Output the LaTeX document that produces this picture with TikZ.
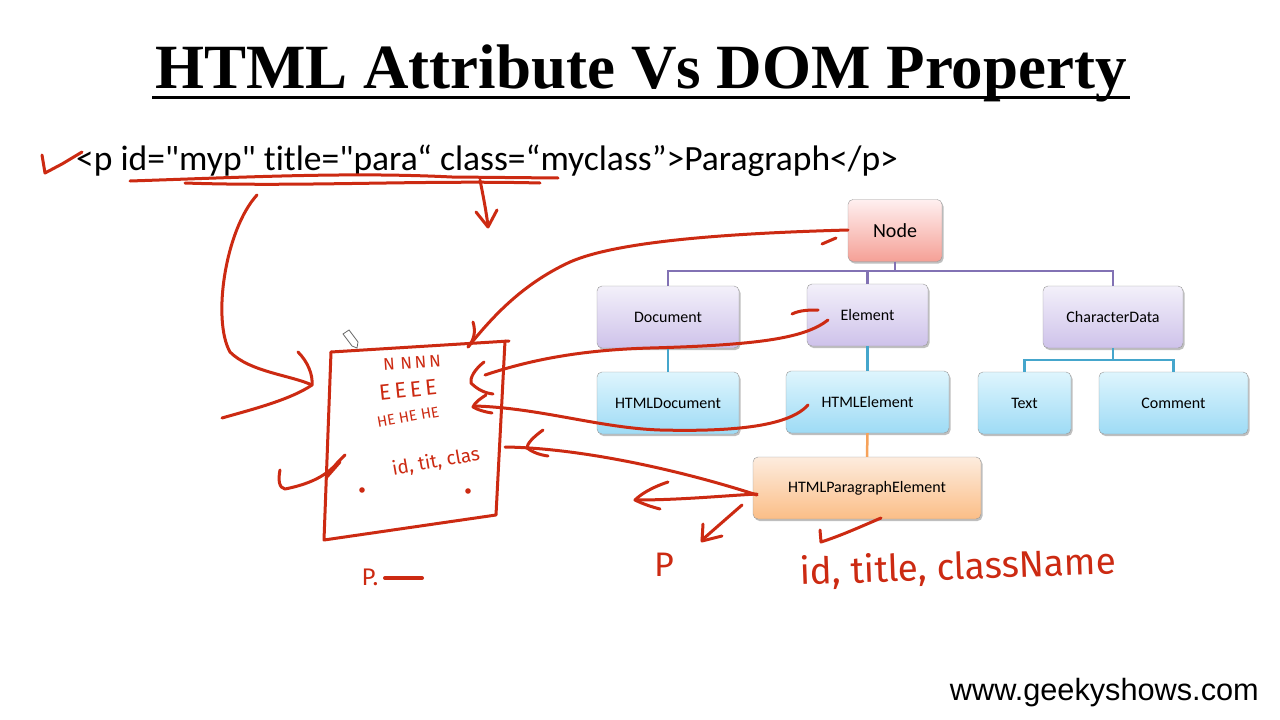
\documentclass[tikz,border=0pt]{standalone}
\usepackage{fontspec}
\setmainfont{Liberation Serif}
\newfontfamily\calib[Ligatures=NoCommon]{Carlito}
\newfontfamily\arialf{Liberation Sans}
\newfontfamily\handf{Fira Sans}
\usetikzlibrary{shadows}
\definecolor{pen}{HTML}{CC2A12}
\definecolor{purpline}{HTML}{8272B4}
\definecolor{blueline}{HTML}{45A6CC}
\definecolor{orline}{HTML}{F6A25A}
\begin{document}
\begin{tikzpicture}[x=1pt,y=-1pt,
  box/.style={draw=black!40, rounded corners=5pt, minimum height=62pt, inner sep=0pt,
    font=\calib\fontsize{16}{18}\selectfont,
    drop shadow={shadow xshift=1.5pt, shadow yshift=-2pt, opacity=0.25, fill=black}},
  pinkbox/.style={box, top color=red!6, bottom color={rgb,255:red,245;green,160;blue,150}},
  lavbox/.style={box, top color={rgb,255:red,243;green,240;blue,250}, bottom color={rgb,255:red,206;green,194;blue,234}},
  bluebox/.style={box, top color={rgb,255:red,222;green,245;blue,253}, bottom color={rgb,255:red,158;green,219;blue,245}},
  orbox/.style={box, top color={rgb,255:red,253;green,236;blue,222}, bottom color={rgb,255:red,251;green,190;blue,135}},
  pen/.style={draw=pen, line width=3pt, line cap=round, line join=round},
  hand/.style={text=pen, inner sep=0pt}]
\useasboundingbox (0,0) rectangle (1280,720);
\fill[white] (0,0) rectangle (1280,720);

% title
\node[font=\bfseries\fontsize{63}{70}\selectfont, inner sep=0pt, anchor=base] (title) at (641,88) {HTML Attribute Vs DOM Property};
\draw[line width=3pt] (152,97) -- (1130,97);

% code line
\node[font=\calib\fontsize{35.5}{38}\selectfont, anchor=base west, inner sep=0pt] (code) at (76,170) {<p id="myp" title="para“ class=“myclass”>Paragraph</p>};

% url
\node[font=\arialf\fontsize{30.7}{34}\selectfont, anchor=base east, inner sep=0pt] (url) at (1259,700) {www.geekyshows.com};

% tree nodes
\node[pinkbox, minimum width=94pt, font=\calib\fontsize{20}{24}\selectfont] (nodeN) at (895,230.5) {Node};
\node[lavbox, minimum width=142pt] (doc) at (668,317) {Document};
\node[lavbox, minimum width=121pt] (elem) at (867.5,315) {Element};
\node[lavbox, minimum width=140pt] (chd) at (1113,317) {CharacterData};
\node[bluebox, minimum width=142pt] (hdoc) at (668,403) {HTMLDocument};
\node[bluebox, minimum width=163pt] (hel) at (867.5,402) {HTMLElement};
\node[bluebox, minimum width=93pt] (txt) at (1024.5,403) {Text};
\node[bluebox, minimum width=149pt] (cmt) at (1173.5,403) {Comment};
\node[orbox, minimum width=228pt] (para) at (867,488) {HTMLParagraphElement};

% tree connectors
\coordinate (j1) at (895,271);
\coordinate (j2) at (1113,360);
\draw[purpline, line width=2.5pt] (nodeN.south) -- (j1);
\draw[purpline, line width=2.5pt] (doc.north) |- (j1) -| (chd.north);
\draw[purpline, line width=2.5pt] (elem.north) -- (elem.north |- j1);
\draw[blueline, line width=2.5pt] (doc.south) -- (hdoc.north);
\draw[blueline, line width=2.5pt] (elem.south) -- (hel.north);
\draw[blueline, line width=2.5pt] (chd.south) -- (j2);
\draw[blueline, line width=2.5pt] (txt.north) |- (j2) -| (cmt.north);
\draw[orline, line width=2.5pt] (hel.south) -- (para.north);

% ---- hand-drawn annotations ----
% check mark at code line
\draw[pen] (42,155) -- (45,173) -- (62,164) -- (82,152);
% underlines
\draw[pen] (130,181) .. controls (250,177) and (350,172) .. (452,177) -- (558,178);
\draw[pen] (185,183) .. controls (300,187) and (420,180) .. (540,183);
% arrow down
\draw[pen] (480,180) .. controls (483,195) and (486,210) .. (488,226);
\draw[pen] (476,212) -- (488,227) -- (497,210);

% left big arrow into box
\draw[pen] (257,195) .. controls (225,230) and (212,320) .. (230,352) .. controls (250,372) and (290,375) .. (312,385);
\draw[pen] (298,352) .. controls (308,362) and (313,375) .. (312,385) .. controls (290,400) and (250,410) .. (222,418);

% box
\draw[pen] (331,352) -- (509,341);
\draw[pen] (505,341) -- (496,515) -- (324,540) -- (331,352);

% pencil cursor
\draw[black!60, line width=0.8pt, fill=white] (343,334) -- (349,330) -- (358,342) -- (357,348) -- (352,346) -- cycle;

% from Node
\draw[pen] (848,230) .. controls (740,233) and (620,240) .. (570,262) .. controls (520,285) and (490,320) .. (468,347);
\draw[pen] (473,322) .. controls (476,332) and (474,340) .. (468,347);
\draw[pen] (822,244) -- (836,238);

% from Element
\draw[pen] (792,314) .. controls (800,310) and (810,310) .. (818,310);
\draw[pen] (828,320) .. controls (805,338) and (760,345) .. (650,348) .. controls (580,350) and (530,360) .. (485,375);
\draw[pen] (484,362) .. controls (474,370) and (470,378) .. (471,383) .. controls (478,390) and (485,393) .. (493,394);

% from HTMLElement
\draw[pen] (808,405) .. controls (790,425) and (740,432) .. (660,430) .. controls (600,428) and (540,408) .. (475,406);
\draw[pen] (486,395) .. controls (478,400) and (474,404) .. (473,407) .. controls (478,410) and (485,412) .. (492,413);

% from HTMLParagraphElement to box
\draw[pen] (757,495) .. controls (680,470) and (580,448) .. (505,447);
\draw[pen] (543,430) .. controls (532,438) and (527,444) .. (527,448) .. controls (532,452) and (540,455) .. (548,456);
% to P
\draw[pen] (757,494) .. controls (720,496) and (680,500) .. (635,500);
\draw[pen] (668,482) .. controls (650,488) and (640,495) .. (635,500) .. controls (643,504) and (652,507) .. (660,509);
\draw[pen] (742,505) -- (702,540);
\draw[pen] (703,524) -- (702,541) -- (722,536);
% to id, title...
\draw[pen] (881,518) .. controls (860,527) and (840,536) .. (821,542) -- (820,530);

% check mark near box
\draw[pen] (280,470) .. controls (278,480) and (279,488) .. (285,489) .. controls (305,485) and (325,478) .. (338,462) -- (345,455);
\draw[pen] (326,478) -- (340,462);

% handwritten texts
\node[hand, font=\handf\fontsize{17}{18}\selectfont, rotate=4] (hN) at (412,363) {N\,\,N\,N\,N};
\node[hand, font=\handf\fontsize{22}{24}\selectfont, rotate=6] (hE) at (408,390) {E\,E\,E\,E};
\node[hand, font=\handf\fontsize{15}{16}\selectfont, rotate=10] (hHE) at (408,417) {HE HE HE};
\node[hand, font=\handf\fontsize{19}{20}\selectfont, rotate=10] (hid) at (436,462) {id, tit, clas};
\fill[pen] (362,490) circle (1.5pt);
\fill[pen] (468,491) circle (1.5pt);
\node[hand, font=\handf\fontsize{24}{26}\selectfont] (hP1) at (370,577) {P.};
\draw[pen, line width=4pt] (385,578) -- (422,578);
\node[hand, font=\handf\fontsize{34}{36}\selectfont] (hP2) at (664,565) {P};
\node[hand, font=\handf\fontsize{37}{40}\selectfont, rotate=2] (hids) at (958,568) {id, title, className};
\end{tikzpicture}
\end{document}
